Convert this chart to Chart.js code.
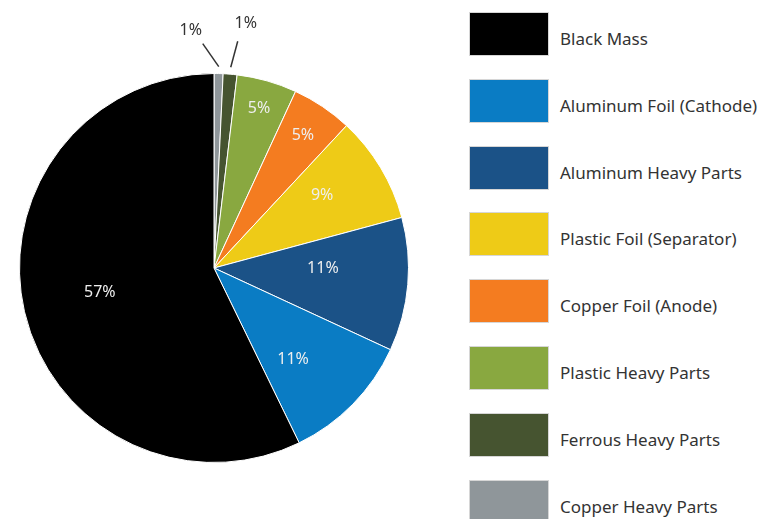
<!DOCTYPE html>
<html>
<head>
<meta charset="utf-8">
<script src="https://cdn.jsdelivr.net/npm/chart.js@4.4.1/dist/chart.umd.min.js"></script>
<style>
    body { margin: 0; background: #fff; }
    #wrap { position: relative; width: 761px; height: 519px; overflow: hidden; font-family: 'Noto Sans', sans-serif; }
    #pie { position: absolute; left: 0; top: 0; }
    #legend { position: absolute; left: 469px; top: 12px; margin: 0; padding: 0; list-style: none; }
    #legend li { position: relative; height: 66.8px; }
    #legend .box { position: absolute; left: 0; top: 0; width: 78px; height: 42px; border: 1px solid #d6d6d6; box-sizing: content-box; }
    #legend .txt { position: absolute; left: 91px; top: 15px; font-size: 17px; color: #333; white-space: nowrap; }
</style>
</head>
<body>
<div id="wrap">
    <canvas id="pie" width="428" height="519"></canvas>
    <ul id="legend"></ul>
</div>
<script>
// Chart data
const categories = [
    'Black Mass',
    'Aluminum Foil (Cathode)',
    'Aluminum Heavy Parts',
    'Plastic Foil (Separator)',
    'Copper Foil (Anode)',
    'Plastic Heavy Parts',
    'Ferrous Heavy Parts',
    'Copper Heavy Parts'
];
const shares = [57.3, 10.9, 11.1, 8.9, 5.05, 5.0, 1.15, 0.75];
const shareLabels = ['57%', '11%', '11%', '9%', '5%', '5%', '1%', '1%'];

// Styles
const colors = ['#000000', '#0a7cc4', '#1b5287', '#eecb17', '#f47c20', '#89a840', '#465430', '#8f969a'];
const labelRadius = [0.6, 0.62, 0.56, 0.67, 0.82, 0.85, null, null];
const labelTurn = [0.02, 0.08, -0.08, -0.05, 0, 0, 0, 0];   // radians, nudges label off the slice middle
// leader line end offsets for the labels placed outside the pie
const outsideLabels = {
    6: { line: [7, -26], text: [8, -18] },
    7: { line: [-16, -23], text: [-12, -13] }
};

// The pie runs counterclockwise in legend order, so the chart gets the series reversed
const order = categories.map((c, i) => categories.length - 1 - i);

// Draws the percentage labels
const sliceLabels = {
    id: 'sliceLabels',
    afterDatasetsDraw(chart) {
        const ctx = chart.ctx;
        const arcs = chart.getDatasetMeta(0).data;
        ctx.save();
        ctx.textAlign = 'center';
        ctx.textBaseline = 'middle';
        arcs.forEach((arc, j) => {
            const i = order[j];
            const mid = (arc.startAngle + arc.endAngle) / 2;
            const cx = arc.x, cy = arc.y, r = arc.outerRadius;
            if (outsideLabels[i]) {
                const o = outsideLabels[i];
                const sx = cx + Math.cos(mid) * (r + 7);
                const sy = cy + Math.sin(mid) * (r + 7);
                const ex = sx + o.line[0], ey = sy + o.line[1];
                ctx.strokeStyle = '#333';
                ctx.lineWidth = 1.5;
                ctx.beginPath();
                ctx.moveTo(sx, sy);
                ctx.lineTo(ex, ey);
                ctx.stroke();
                ctx.fillStyle = '#333';
                ctx.font = '16px "Noto Sans", sans-serif';
                ctx.fillText(shareLabels[i], ex + o.text[0], ey + o.text[1]);
            } else {
                const d = r * labelRadius[i];
                const a = mid + labelTurn[i];
                ctx.fillStyle = '#eeeeee';
                ctx.font = '16px "Noto Sans", sans-serif';
                ctx.fillText(shareLabels[i], cx + Math.cos(a) * d, cy + Math.sin(a) * d);
            }
        });
        ctx.restore();
    }
};

function initChart() {
    const ctx = document.getElementById('pie').getContext('2d');

    new Chart(ctx, {
        type: 'pie',
        data: {
            labels: order.map(i => categories[i]),
            datasets: [{
                data: order.map(i => shares[i]),
                backgroundColor: order.map(i => colors[i]),
                borderColor: '#ffffff',
                borderWidth: 1
            }]
        },
        options: {
            responsive: false,
            animation: false,
            layout: { padding: { top: 73, bottom: 56, left: 19, right: 19 } },
            plugins: {
                legend: { display: false },
                tooltip: { enabled: false }
            }
        },
        plugins: [sliceLabels]
    });
}

function buildLegend() {
    const list = document.getElementById('legend');
    categories.forEach((name, i) => {
        const li = document.createElement('li');
        li.innerHTML = `<span class="box" style="background:${colors[i]}"></span><span class="txt">${name}</span>`;
        list.appendChild(li);
    });
}

initChart();
buildLegend();
</script>
</body>
</html>
